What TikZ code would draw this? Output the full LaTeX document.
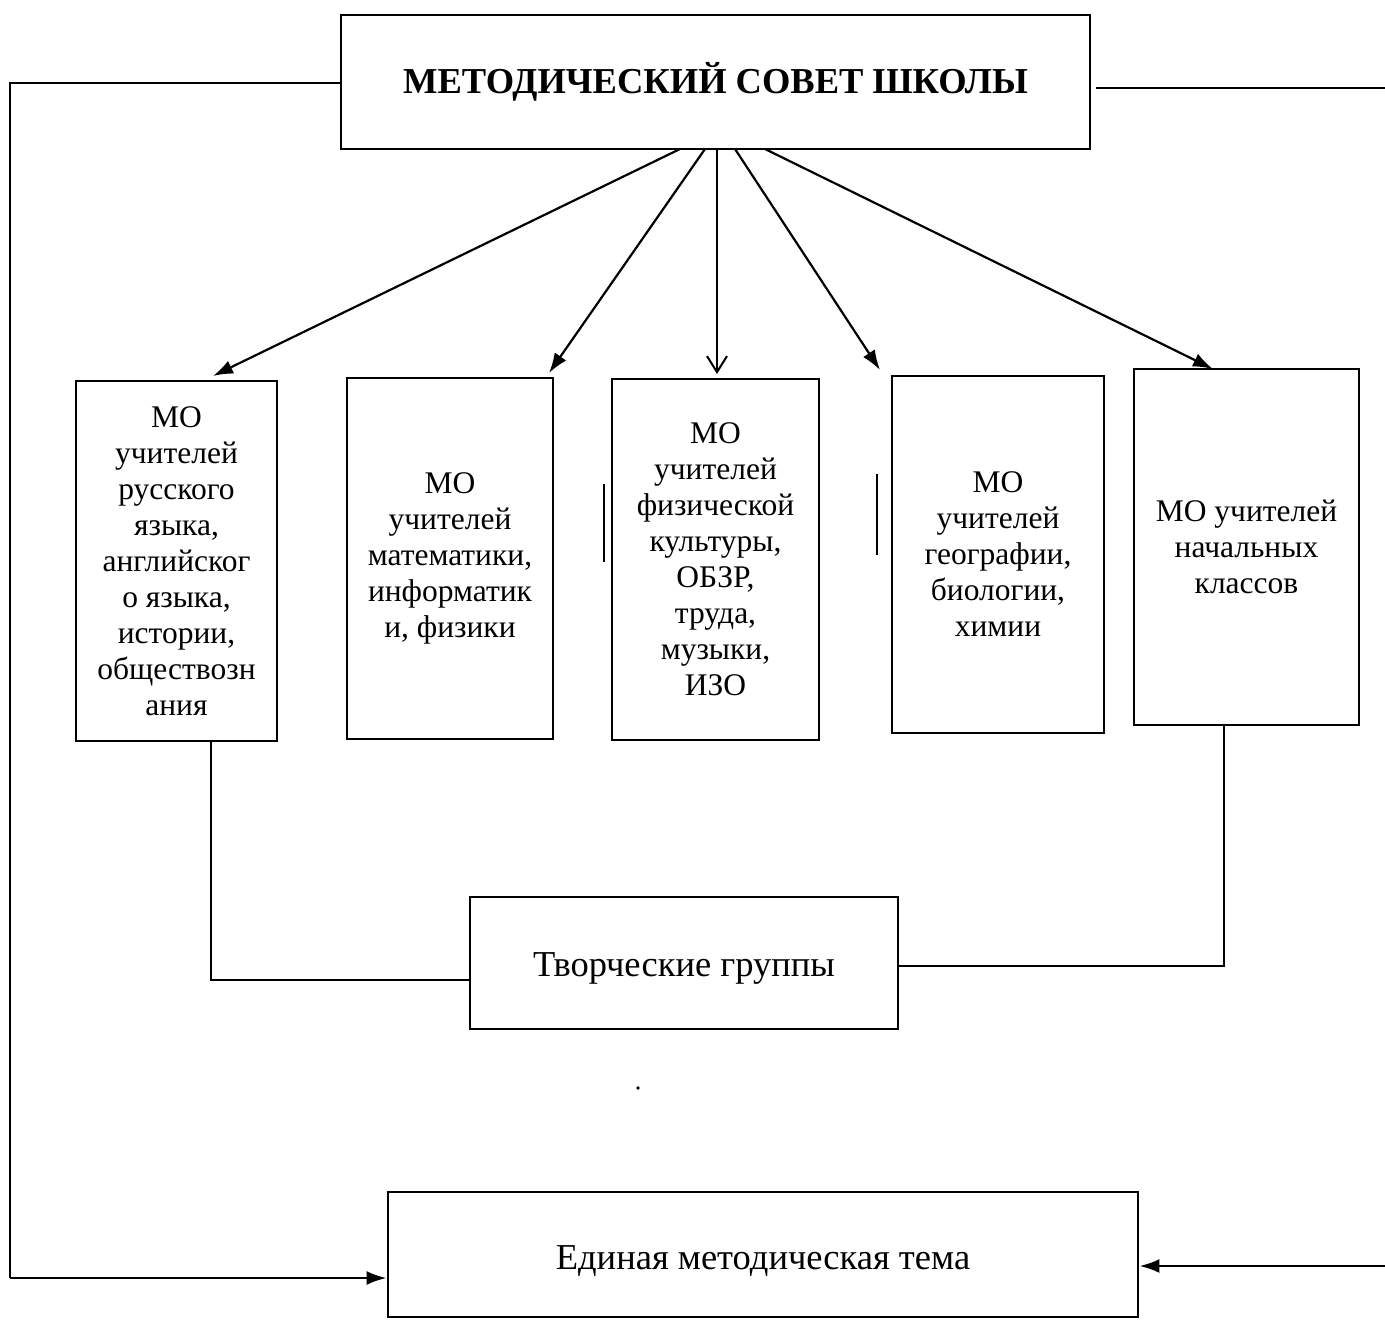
\documentclass[tikz,border=0pt]{standalone}
\usepackage{fontspec}
\setmainfont{Liberation Serif}
\usetikzlibrary{arrows.meta}
\begin{document}
\begin{tikzpicture}[x=1pt,y=-1pt,
  box/.style={draw, line width=2.8pt, inner sep=0pt, align=center,
    font=\fontsize{31.5}{36}\selectfont},
  ln/.style={line width=2.6pt},
  arr/.style={line width=2.2pt, -{Latex[length=20pt,width=14pt]}},
  openarr/.style={line width=2pt, -{Straight Barb[length=16pt,width=20pt,line width=2pt]}}]
\useasboundingbox (0,0) rectangle (1385,1320);

% top box
\node[box, minimum width=749pt, minimum height=134pt,
  font=\fontsize{36.5}{42}\selectfont\bfseries] (top) at (715.5,82) {МЕТОДИЧЕСКИЙ СОВЕТ ШКОЛЫ};

% MO boxes
\node[box, minimum width=201pt, minimum height=360pt] (m1) at (176.5,561)
  {МО\\учителей\\русского\\языка,\\английског\\о языка,\\истории,\\обществозн\\ания};
\node[box, minimum width=206pt, minimum height=361pt] (m2) at (450,558.5)
  {МО\\учителей\\математики,\\информатик\\и, физики};
\node[box, minimum width=207pt, minimum height=361pt] (m3) at (715.5,559.5)
  {МО\\учителей\\физической\\культуры,\\ОБЗР,\\труда,\\музыки,\\ИЗО};
\node[box, minimum width=212pt, minimum height=357pt] (m4) at (998,554.5)
  {МО\\учителей\\географии,\\биологии,\\химии};
\node[box, minimum width=225pt, minimum height=356pt] (m5) at (1246.5,547)
  {МО учителей\\начальных\\классов};

% creative groups
\node[box, minimum width=428pt, minimum height=132pt,
  font=\fontsize{36.5}{42}\selectfont] (tg) at (684,963) {\raisebox{-13pt}[0pt][0pt]{Творческие группы}};

% single methodical theme
\node[box, minimum width=750pt, minimum height=125pt,
  font=\fontsize{36.5}{42}\selectfont] (em) at (763,1254.5) {\raisebox{-15pt}[0pt][0pt]{Единая методическая тема}};

% arrow start / end coordinates
\coordinate (s1) at (680,149);
\coordinate (s2) at (705,149);
\coordinate (s3) at (717,149);
\coordinate (s4) at (735,149);
\coordinate (s5) at (765,149);
\coordinate (e1) at (213,376);
\coordinate (e2) at (549,373);
\coordinate (e3) at (717,374);
\coordinate (e4) at (880,370);
\coordinate (e5) at (1213,369);

\draw[arr] (s1) -- (e1);
\draw[arr] (s2) -- (e2);
\draw[openarr] (s3) -- (e3);
\draw[arr] (s4) -- (e4);
\draw[arr] (s5) -- (e5);

% stray vertical lines
\coordinate (v1a) at (604,484); \coordinate (v1b) at (604,562);
\coordinate (v2a) at (877,474); \coordinate (v2b) at (877,555);
\draw[line width=2pt] (v1a) -- (v1b);
\draw[line width=2pt] (v2a) -- (v2b);

% MO boxes to creative groups
\coordinate (c1) at (211,980);
\coordinate (c2) at (1224,966);
\draw[ln] (m1.south -| c1) -- (c1) -- (c1 -| tg.west);
\draw[ln] (tg.east |- c2) -- (c2) -- (m5.south -| c2);

% outer feedback lines
\coordinate (lt) at (10,83);
\coordinate (lb) at (10,1278);
\coordinate (rt) at (1385,88);
\coordinate (rb) at (1385,1266);
\draw[ln] (top.west |- lt) -- (lt) -- (lb);
\draw[ln, -{Latex[length=20pt,width=14pt]}] (lb) -- (lb -| em.west);
\draw[ln] (top.east |- rt) ++(5,0) -- (rt);
\draw[ln, -{Latex[length=20pt,width=14pt]}] (rb) -- (rb -| em.east);

% speck
\fill (638,1088) circle (1.8pt);
\end{tikzpicture}
\end{document}
